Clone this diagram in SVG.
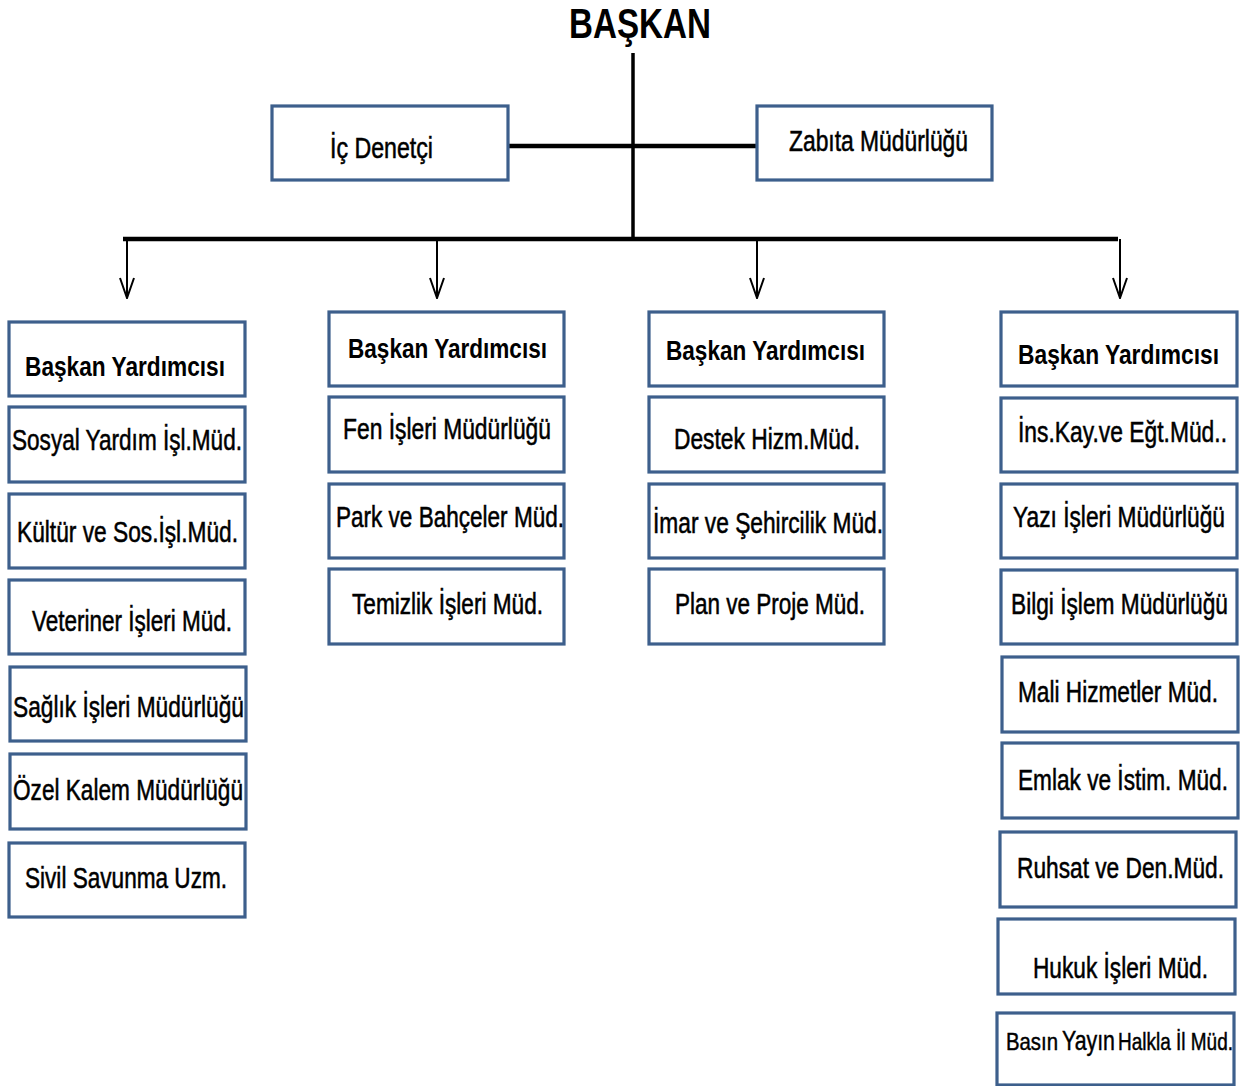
<svg xmlns="http://www.w3.org/2000/svg" width="1250" height="1086" viewBox="0 0 1250 1086">
<defs>
<style>
.box{fill:#ffffff;stroke:#3d5f8c;stroke-width:3.2}
.t{font-family:"Liberation Sans",Arial,sans-serif;font-size:30px;fill:#000000;stroke:#000000;stroke-width:0.55}
.b{font-family:"Liberation Sans",Arial,sans-serif;font-size:28px;font-weight:bold;fill:#000000}
.s{font-family:"Liberation Sans",Arial,sans-serif;font-size:23px;fill:#000000;stroke:#000000;stroke-width:0.45}
.ln{stroke:#000000;fill:none}
</style>
<marker id="arr" markerWidth="22" markerHeight="16" refX="21" refY="8" orient="auto" markerUnits="userSpaceOnUse" viewBox="0 0 22 16">
<path d="M1,1 L21,8 L1,15" fill="none" stroke="#000" stroke-width="2"/>
</marker>
</defs>
<rect width="1250" height="1086" fill="#ffffff"/>

<g id="connectors">
<line class="ln" x1="633" y1="53" x2="633" y2="240" stroke-width="3.5"/>
<line class="ln" x1="508" y1="146" x2="757" y2="146" stroke-width="4.5"/>
<line class="ln" x1="123" y1="239" x2="1118" y2="239" stroke-width="4.5"/>
<line class="ln" x1="127" y1="239" x2="127" y2="298" stroke-width="2" marker-end="url(#arr)"/>
<line class="ln" x1="437" y1="239" x2="437" y2="298" stroke-width="2" marker-end="url(#arr)"/>
<line class="ln" x1="757" y1="239" x2="757" y2="298" stroke-width="2" marker-end="url(#arr)"/>
<line class="ln" x1="1120" y1="239" x2="1120" y2="298" stroke-width="2" marker-end="url(#arr)"/>
</g>

<g id="baskan">
<text class="b" x="569" y="38" style="font-size:43px" textLength="142" lengthAdjust="spacingAndGlyphs">BAŞKAN</text>
</g>

<g id="ic-denetci">
<rect class="box" x="272" y="106" width="236" height="74"/>
<text class="t" x="330" y="158" textLength="103" lengthAdjust="spacingAndGlyphs">İç Denetçi</text>
</g>
<g id="zabita">
<rect class="box" x="757" y="106" width="235" height="74"/>
<text class="t" x="789" y="151" textLength="179" lengthAdjust="spacingAndGlyphs">Zabıta Müdürlüğü</text>
</g>

<!-- Column 1 -->
<g id="by1">
<rect class="box" x="9" y="322" width="236" height="74"/>
<text class="b" x="25" y="376" textLength="200" lengthAdjust="spacingAndGlyphs">Başkan Yardımcısı</text>
</g>
<g id="sosyal">
<rect class="box" x="9" y="407" width="236" height="75"/>
<text class="t" x="12" y="450" textLength="230" lengthAdjust="spacingAndGlyphs">Sosyal Yardım İşl.Müd.</text>
</g>
<g id="kultur">
<rect class="box" x="9" y="494" width="236" height="74"/>
<text class="t" x="17" y="542" textLength="221" lengthAdjust="spacingAndGlyphs">Kültür ve Sos.İşl.Müd.</text>
</g>
<g id="veteriner">
<rect class="box" x="9" y="580" width="236" height="74"/>
<text class="t" x="32" y="631" textLength="200" lengthAdjust="spacingAndGlyphs">Veteriner İşleri Müd.</text>
</g>
<g id="saglik">
<rect class="box" x="10" y="667" width="236" height="74"/>
<text class="t" x="13" y="717" textLength="231" lengthAdjust="spacingAndGlyphs">Sağlık İşleri Müdürlüğü</text>
</g>
<g id="ozel">
<rect class="box" x="10" y="754" width="236" height="75"/>
<text class="t" x="13" y="800" textLength="230" lengthAdjust="spacingAndGlyphs">Özel Kalem Müdürlüğü</text>
</g>
<g id="sivil">
<rect class="box" x="9" y="843" width="236" height="74"/>
<text class="t" x="25" y="888" textLength="202" lengthAdjust="spacingAndGlyphs">Sivil Savunma Uzm.</text>
</g>

<!-- Column 2 -->
<g id="by2">
<rect class="box" x="329" y="312" width="235" height="74"/>
<text class="b" x="348" y="358" textLength="199" lengthAdjust="spacingAndGlyphs">Başkan Yardımcısı</text>
</g>
<g id="fen">
<rect class="box" x="329" y="397" width="235" height="75"/>
<text class="t" x="343" y="439" textLength="208" lengthAdjust="spacingAndGlyphs">Fen İşleri Müdürlüğü</text>
</g>
<g id="park">
<rect class="box" x="329" y="484" width="235" height="74"/>
<text class="t" x="336" y="527" textLength="228" lengthAdjust="spacingAndGlyphs">Park ve Bahçeler Müd.</text>
</g>
<g id="temizlik">
<rect class="box" x="329" y="569" width="235" height="75"/>
<text class="t" x="352" y="614" textLength="191" lengthAdjust="spacingAndGlyphs">Temizlik İşleri Müd.</text>
</g>

<!-- Column 3 -->
<g id="by3">
<rect class="box" x="649" y="312" width="235" height="74"/>
<text class="b" x="666" y="360" textLength="199" lengthAdjust="spacingAndGlyphs">Başkan Yardımcısı</text>
</g>
<g id="destek">
<rect class="box" x="649" y="397" width="235" height="75"/>
<text class="t" x="674" y="449" textLength="186" lengthAdjust="spacingAndGlyphs">Destek Hizm.Müd.</text>
</g>
<g id="imar">
<rect class="box" x="649" y="484" width="235" height="74"/>
<text class="t" x="653" y="533" textLength="230" lengthAdjust="spacingAndGlyphs">İmar ve Şehircilik Müd.</text>
</g>
<g id="plan">
<rect class="box" x="649" y="569" width="235" height="75"/>
<text class="t" x="675" y="614" textLength="190" lengthAdjust="spacingAndGlyphs">Plan ve Proje Müd.</text>
</g>

<!-- Column 4 -->
<g id="by4">
<rect class="box" x="1001" y="312" width="236" height="74"/>
<text class="b" x="1018" y="364" textLength="201" lengthAdjust="spacingAndGlyphs">Başkan Yardımcısı</text>
</g>
<g id="ins">
<rect class="box" x="1001" y="398" width="236" height="74"/>
<text class="t" x="1018" y="442" textLength="209" lengthAdjust="spacingAndGlyphs">İns.Kay.ve Eğt.Müd..</text>
</g>
<g id="yazi">
<rect class="box" x="1001" y="484" width="236" height="74"/>
<text class="t" x="1013" y="527" textLength="212" lengthAdjust="spacingAndGlyphs">Yazı İşleri Müdürlüğü</text>
</g>
<g id="bilgi">
<rect class="box" x="1001" y="570" width="236" height="74"/>
<text class="t" x="1011" y="614" textLength="217" lengthAdjust="spacingAndGlyphs">Bilgi İşlem Müdürlüğü</text>
</g>
<g id="mali">
<rect class="box" x="1002" y="657" width="236" height="75"/>
<text class="t" x="1018" y="702" textLength="200" lengthAdjust="spacingAndGlyphs">Mali Hizmetler Müd.</text>
</g>
<g id="emlak">
<rect class="box" x="1002" y="743" width="236" height="75"/>
<text class="t" x="1018" y="790" textLength="210" lengthAdjust="spacingAndGlyphs">Emlak ve İstim. Müd.</text>
</g>
<g id="ruhsat">
<rect class="box" x="1000" y="832" width="236" height="75"/>
<text class="t" x="1017" y="878" textLength="207" lengthAdjust="spacingAndGlyphs">Ruhsat ve Den.Müd.</text>
</g>
<g id="hukuk">
<rect class="box" x="998" y="919" width="237" height="75"/>
<text class="t" x="1033" y="978" textLength="175" lengthAdjust="spacingAndGlyphs">Hukuk İşleri Müd.</text>
</g>
<g id="basin">
<rect class="box" x="997" y="1013" width="237" height="72"/>
<text class="s" y="1050"><tspan x="1006" style="font-size:24px" textLength="52" lengthAdjust="spacingAndGlyphs">Basın</tspan> <tspan x="1062" style="font-size:28px" textLength="53" lengthAdjust="spacingAndGlyphs">Yayın</tspan> <tspan x="1118" style="font-size:23px" textLength="115" lengthAdjust="spacingAndGlyphs">Halkla İl Müd.</tspan></text>
</g>
</svg>
